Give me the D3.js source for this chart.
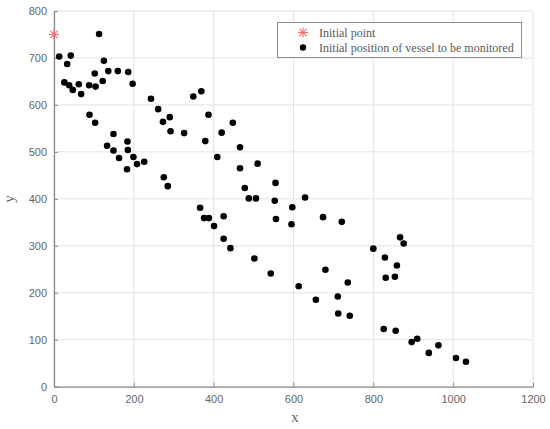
<!DOCTYPE html>
<html><head><meta charset="utf-8">
<script src="https://cdn.jsdelivr.net/npm/d3@7"></script>
<style>
html,body{margin:0;padding:0;background:#fff;}
svg{display:block;}
</style></head>
<body>
<svg id="chart" width="550" height="429"></svg>
<script>
const xTicks = [0, 200, 400, 600, 800, 1000, 1200];
const yTicks = [0, 100, 200, 300, 400, 500, 600, 700, 800];
const initialPoint = [[0, 750]];
const vesselX = [13,42,33,26,38,47,62,68,113,88,102,104,125,136,122,160,186,197,89,103,149,133,149,163,184,185,183,199,208,226,243,261,273,290,292,326,275,285,349,369,387,379,409,420,448,466,466,478,488,506,510,555,553,629,597,366,376,388,401,425,425,442,502,543,556,595,674,721,800,829,859,867,876,831,854,613,680,736,656,711,712,741,826,856,896,910,963,939,1007,1032];
const vesselY = [703,705,687,648,642,632,644,623,751,642,667,639,694,672,651,672,670,645,579,562,538,513,503,487,522,504,463,489,474,479,613,591,564,574,544,540,446,427,618,629,579,523,489,541,562,510,465,423,401,401,475,434,396,403,382,381,359,359,342,363,315,295,273,241,357,346,361,351,294,275,258,318,305,232,234,214,249,222,185,192,156,151,123,119,95,102,88,72,61,53];
const legendLabels = ["Initial point", "Initial position of vessel to be monitored"];

const svg = d3.select("#chart");
const x = d3.scaleLinear().domain([0, 1200]).range([54, 533]);
const y = d3.scaleLinear().domain([0, 800]).range([386.7, 11]);

// grid
const grid = svg.append("g");
grid.selectAll(".gx").data(xTicks).join("line")
  .attr("x1", d => x(d)).attr("x2", d => x(d))
  .attr("y1", y(0)).attr("y2", y(800))
  .attr("stroke", "#e3e3e3").attr("stroke-width", 1);
grid.selectAll(".gy").data(yTicks).join("line")
  .attr("y1", d => y(d)).attr("y2", d => y(d))
  .attr("x1", x(0)).attr("x2", x(1200))
  .attr("stroke", "#e3e3e3").attr("stroke-width", 1);

// axes
const fmt = d3.format("d");
const xAxis = svg.append("g").attr("transform", `translate(0,${y(0)})`)
  .call(d3.axisBottom(x).tickValues(xTicks).tickFormat(fmt).tickSizeInner(-4).tickSizeOuter(0).tickPadding(9));
const yAxis = svg.append("g").attr("transform", `translate(${x(0)},0)`)
  .call(d3.axisLeft(y).tickValues(yTicks).tickFormat(fmt).tickSizeInner(-4).tickSizeOuter(0).tickPadding(7));
[xAxis, yAxis].forEach(a => {
  a.select(".domain").attr("stroke", "#8c8c8c").attr("stroke-width", 1.3);
  a.selectAll(".tick line").attr("stroke", "#8c8c8c");
  a.selectAll(".tick text").attr("fill", "#666")
    .style("font-family", "Liberation Sans, Arial, sans-serif").style("font-size", "11px");
});

// axis labels
svg.append("text").attr("x", 295).attr("y", 422).attr("text-anchor", "middle")
  .style("font-family", "Liberation Serif, Times New Roman, serif").style("font-size", "15px")
  .attr("fill", "#666").text("x");
svg.append("text").attr("transform", "translate(14,199) rotate(-90)").attr("text-anchor", "middle")
  .style("font-family", "Liberation Serif, Times New Roman, serif").style("font-size", "15px")
  .attr("fill", "#666").text("y");

// star marker
function star(g, cx, cy, r, color) {
  const s = g.append("g").attr("transform", `translate(${cx},${cy})`)
    .attr("stroke", color).attr("stroke-width", 1.1);
  s.append("line").attr("x1", -r).attr("x2", r).attr("y1", 0).attr("y2", 0);
  s.append("line").attr("x1", 0).attr("x2", 0).attr("y1", -r).attr("y2", r);
  const d = r * 0.72;
  s.append("line").attr("x1", -d).attr("x2", d).attr("y1", -d).attr("y2", d);
  s.append("line").attr("x1", -d).attr("x2", d).attr("y1", d).attr("y2", -d);
}

// vessel points
const pts = vesselX.map((v, i) => [v, vesselY[i]]);
svg.append("g").selectAll("circle").data(pts).join("circle")
  .attr("cx", d => x(d[0])).attr("cy", d => y(d[1])).attr("r", 3.3).attr("fill", "#000");

initialPoint.forEach(p => star(svg, x(p[0]), y(p[1]), 5, "#f06a6a"));

// legend
const lg = svg.append("g");
lg.append("rect").attr("x", 277.5).attr("y", 22.5).attr("width", 244).attr("height", 35)
  .attr("fill", "#fff").attr("stroke", "#8c8c8c").attr("stroke-width", 1);
star(lg, 303, 32.5, 5, "#f06a6a");
lg.append("circle").attr("cx", 303).attr("cy", 47.5).attr("r", 3.2).attr("fill", "#000");
lg.selectAll("text").data(legendLabels).join("text")
  .attr("x", 319).attr("y", (d, i) => 37 + i * 15)
  .style("font-family", "Liberation Serif, Times New Roman, serif").style("font-size", "12px")
  .attr("fill", "#595959").text(d => d);
</script>
</body></html>
